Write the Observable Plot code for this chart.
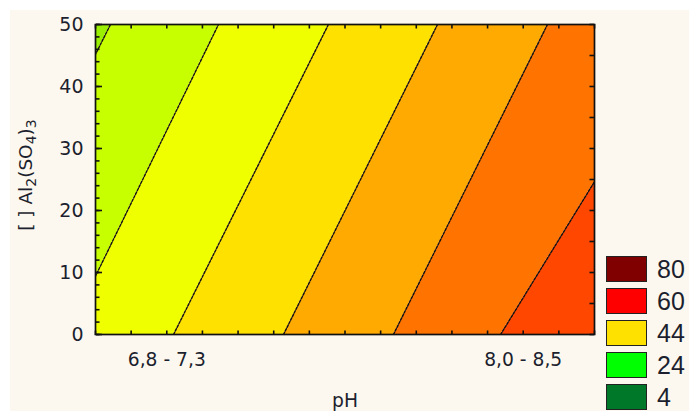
<!DOCTYPE html>
<html><head><meta charset="utf-8">
<script src="https://cdn.jsdelivr.net/npm/d3@7"></script>
<script src="https://cdn.jsdelivr.net/npm/@observablehq/plot@0.6"></script>
<style>
html,body{margin:0;padding:0;background:#fff;}
#wrap{position:relative;width:689px;height:411px;overflow:hidden;}
#bg{position:absolute;left:10px;top:10px;right:0;bottom:0;background:#fdf8ef;}
#chart{position:absolute;left:0;top:0;width:689px;height:411px;}
#legend{position:absolute;left:606px;top:256px;font-family:"Liberation Sans",Arial,sans-serif;font-size:25px;color:#1c1f2e;}
.item{display:flex;align-items:center;height:26px;margin-bottom:6px;}
.sw{box-sizing:border-box;width:41px;height:26px;border:1.5px solid #222;margin-right:10px;}
#ytitle{position:absolute;left:26px;top:175px;transform:translate(-50%,-50%) rotate(-90deg);white-space:nowrap;font-family:"DejaVu Sans",sans-serif;font-size:18.5px;color:#1c1f2e;line-height:1;}
#ytitle sub{font-size:14px;vertical-align:-4px;line-height:0;}
g[aria-label="x-axis tick label"]{font-family:"DejaVu Sans",sans-serif;font-size:18.7px;}
g[aria-label="y-axis tick label"]{font-family:"DejaVu Sans",sans-serif;font-size:19px;}
g[aria-label="text"]{font-family:"DejaVu Sans",sans-serif;font-size:18.7px;}
</style></head><body>
<div id="wrap"><div id="bg"></div><div id="chart"></div><div id="legend"></div>
<div id="ytitle">[ ] Al<sub>2</sub>(SO<sub>4</sub>)<sub>3</sub></div></div>
<script>
// axis ticks and labels
const xMinorTicks = [-1.4,-1.2,-1.0,-0.8,-0.6,-0.4,-0.2,0,0.2,0.4,0.6,0.8,1.0,1.2,1.4];
const xTickValues = [-1, 1];
const xTickLabels = ["6,8 - 7,3", "8,0 - 8,5"];
const yTickValues = [0, 10, 20, 30, 40, 50];
const yMinorTicks = [0,2,4,6,8,10,12,14,16,18,20,22,24,26,28,30,32,34,36,38,40,42,44,46,48,50];
const yRightTicks = [0,5,10,15,20,25,30,35,40,45,50];
const xTitle = "pH";
// contour boundaries: x position at y = 0 and at y = 50
const contourY = [0, 50];
const contourAtY0 = [-2.19, -1.56, -0.962, -0.345, 0.272, 0.873];
const contourAtY50 = [-1.316, -0.710, -0.093, 0.519, 1.136, 1.942];
const bandColors = ["#9af000", "#c8ff00", "#f0ff00", "#ffe100", "#ffaa00", "#ff7400", "#ff4700"];
// legend
const legendValues = [80, 60, 44, 24, 4];
const legendColors = ["#800000", "#ff0000", "#ffe100", "#00ff00", "#00782a"];

const edges0 = [-3, ...contourAtY0, 3];
const edges50 = [-3, ...contourAtY50, 3];
const bandRows = bandColors.flatMap((c, i) => [
  {band: i, y: contourY[0], x1: edges0[i], x2: edges0[i + 1], color: c},
  {band: i, y: contourY[1], x1: edges50[i], x2: edges50[i + 1], color: c}
]);
const lineRows = contourAtY0.flatMap((v, i) => [
  {line: i, y: contourY[0], x: v},
  {line: i, y: contourY[1], x: contourAtY50[i]}
]);

const tickOpts = {fill: "none", label: null, stroke: "#111", strokeWidth: 1.6};
const chart = Plot.plot({
  width: 689, height: 411,
  marginLeft: 95, marginRight: 95, marginTop: 24, marginBottom: 77,
  style: "background:transparent;color:#1c1f2e;font-family:'DejaVu Sans',sans-serif;font-size:18.7px;overflow:visible;",
  x: {domain: [-1.4, 1.4]},
  y: {domain: [0, 50]},
  marks: [
    Plot.areaX(bandRows, {y: "y", x1: "x1", x2: "x2", fill: "color", z: "band", clip: true}),
    Plot.line(lineRows, {x: "x", y: "y", z: "line", stroke: "#111", strokeWidth: 1.4, strokeDasharray: "2.5,1.5", clip: true}),
    // inward ticks on all four sides
    Plot.axisX(xMinorTicks, {anchor: "top", frameAnchor: "bottom", tickSize: 4.5, ...tickOpts}),
    Plot.axisX(xMinorTicks, {anchor: "bottom", frameAnchor: "top", tickSize: 4.5, ...tickOpts}),
    Plot.axisY(yMinorTicks, {anchor: "right", frameAnchor: "left", tickSize: 3.5, ...tickOpts}),
    Plot.axisY(yTickValues, {anchor: "right", frameAnchor: "left", tickSize: 6, ...tickOpts}),
    Plot.axisY(yRightTicks, {anchor: "left", frameAnchor: "right", tickSize: 4.5, ...tickOpts}),
    Plot.frame({stroke: "#111", strokeWidth: 1.7}),
    // labels
    Plot.axisX(xTickValues, {anchor: "bottom", tickSize: 0, tickPadding: 18, tickFormat: d => xTickLabels[xTickValues.indexOf(d)], label: null}),
    Plot.axisY(yTickValues, {anchor: "left", tickSize: 0, tickPadding: 12, label: null}),
    Plot.text([xTitle], {frameAnchor: "bottom", dy: 72, fill: "#1c1f2e"})
  ]
});
document.getElementById("chart").appendChild(chart);

const legend = document.getElementById("legend");
legendValues.forEach((v, i) => {
  const item = document.createElement("div");
  item.className = "item";
  const sw = document.createElement("div");
  sw.className = "sw";
  sw.style.background = legendColors[i];
  const lab = document.createElement("span");
  lab.textContent = v;
  item.appendChild(sw);
  item.appendChild(lab);
  legend.appendChild(item);
});
</script>
</body></html>
